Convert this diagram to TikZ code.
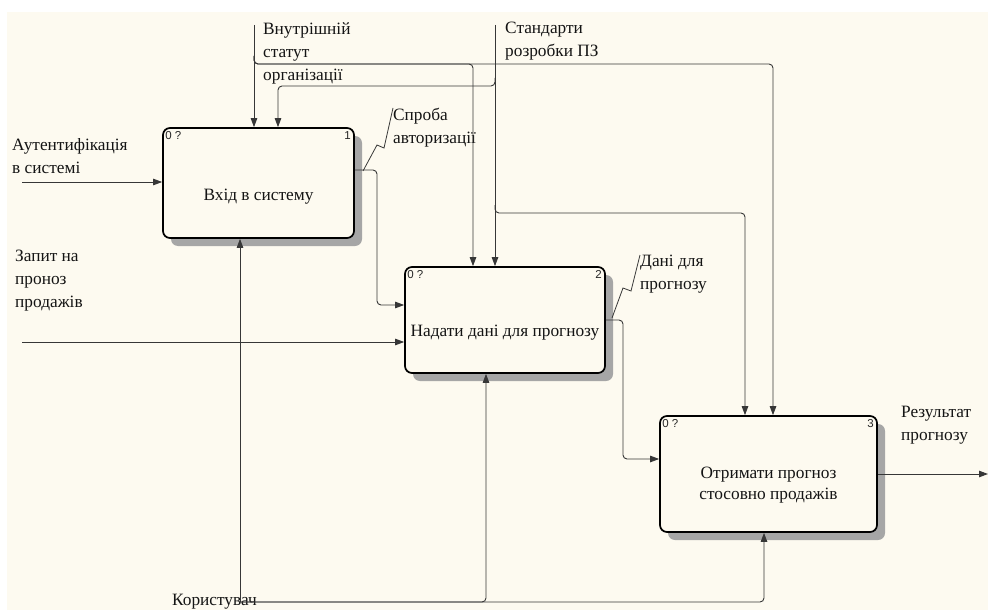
\documentclass[tikz,border=0pt]{standalone}
\usepackage{fontspec}
\setmainfont{Liberation Serif}
\newfontfamily\labelfont{Liberation Serif}
\newfontfamily\tagfont{Liberation Sans}
\usetikzlibrary{arrows.meta,shadows,calc}
\definecolor{paper}{RGB}{253,250,240}
\definecolor{wire}{RGB}{55,55,55}

\begin{document}
\begin{tikzpicture}[x=1pt,y=-1pt,
  lbl/.style={font=\labelfont\fontsize{17.3}{23}\selectfont, text=black!92, inner sep=0pt, align=left},
  proctext/.style={font=\labelfont\fontsize{17.3}{20.5}\selectfont, text=black!92, inner sep=0pt, align=center},
  tag/.style={font=\tagfont\fontsize{11.5}{13}\selectfont, text=black!85, inner sep=0pt},
  proc/.style={draw=black, line width=1.7pt, rounded corners=7pt, fill=paper, inner sep=0pt,
    general shadow={fill=black!35, shadow xshift=8pt, shadow yshift=-8pt}},
  arr/.style={draw=wire, line width=0.9pt, -{Triangle[length=9pt,width=6.5pt]}},
  wirebend/.style={arr, rounded corners=4pt},
  squig/.style={draw=wire, line width=0.8pt}
]
\useasboundingbox (0,0) rectangle (988,610);
\fill[white] (0,0) rectangle (988,610);
\fill[paper] (7,12) rectangle (988,610);

% activity boxes
\node[proc, minimum width=191pt, minimum height=110pt] (b1) at (258.5,183) {};
\node[proc, minimum width=200pt, minimum height=106pt] (b2) at (505,320) {};
\node[proc, minimum width=217pt, minimum height=116pt] (b3) at (768.5,474) {};

\node[proctext] (t1) at ([yshift=-14pt]b1.center) {Вхід в систему};
\node[proctext] (t2) at ([yshift=-13pt]b2.center) {Надати дані для прогнозу};
\node[proctext] (t3) at ([yshift=-11pt]b3.center) {Отримати прогноз\\стосовно продажів};

\node[tag, anchor=north west] (b1n) at ([shift={(3pt,-4pt)}]b1.north west) {0 ?};
\node[tag, anchor=north east] (b1k) at ([shift={(-4pt,-4pt)}]b1.north east) {1};
\node[tag, anchor=north west] (b2n) at ([shift={(3pt,-4pt)}]b2.north west) {0 ?};
\node[tag, anchor=north east] (b2k) at ([shift={(-4pt,-4pt)}]b2.north east) {2};
\node[tag, anchor=north west] (b3n) at ([shift={(3pt,-4pt)}]b3.north west) {0 ?};
\node[tag, anchor=north east] (b3k) at ([shift={(-4pt,-4pt)}]b3.north east) {3};

% arrow labels
\node[lbl, anchor=north west] (lV) at (263,22) {Внутрішній\\статут\\організації};
\node[lbl, anchor=north west] (lS) at (505,22) {Стандарти\\розробки ПЗ};
\node[lbl, anchor=north west] (lSp) at (393,108) {Спроба\\авторизації};
\node[lbl, anchor=north west] (lD) at (640,255) {Дані для\\прогнозу};
\node[lbl, anchor=north west] (lA) at (12,138) {Аутентифікація\\в системі};
\node[lbl, anchor=north west] (lZ) at (15,250) {Запит на\\проноз\\продажів};
\node[lbl, anchor=north west] (lR) at (901,406) {Результат\\прогнозу};
\node[lbl, anchor=base west] (lK) at (172,605) {Користувач};

% inputs
\coordinate (inA) at (22,182);
\coordinate (inZ) at (22,342);
\draw[arr] (inA) -- (inA -| b1.west);
\draw[arr] (inZ) -- (inZ -| b2.west);

% controls
\coordinate (ctlV) at (254,25);
\coordinate (jV) at (254,56);
\coordinate (c2a) at (473,64);
\coordinate (c3b) at (773,64);
\draw[arr] (ctlV) -- (ctlV |- b1.north);
\draw[wirebend] (jV) |- (c3b) -- (c3b |- b3.north);
\draw[wirebend] (jV) |- (c2a) -- (c2a |- b2.north);

\coordinate (ctlS) at (495,25);
\coordinate (jS1) at (495,78);
\coordinate (c1b) at (278,86);
\coordinate (jS2) at (495,205);
\coordinate (c3a) at (745,213);
\draw[arr] (ctlS) -- (ctlS |- b2.north);
\draw[wirebend] (jS1) |- (c1b) -- (c1b |- b1.north);
\draw[wirebend] (jS2) |- (c3a) -- (c3a |- b3.north);

% outputs
\coordinate (k1) at (377,170);
\coordinate (k2) at (623,320);
\coordinate (outR) at (988,474);
\draw[wirebend] ([yshift=13pt]b1.east) -- (k1) |- ([yshift=15pt]b2.west);
\draw[wirebend] (b2.east) -- (k2) |- ([yshift=15pt]b3.west);
\draw[arr] (b3.east) -- (outR);

% mechanism
\coordinate (mech) at (240,602);
\coordinate (m2) at (486,602);
\coordinate (m3) at (764,602);
\draw[arr] (mech) -- (mech |- b1.south);
\draw[wirebend] (mech) -- (m3) -- (m3 |- b3.south);
\draw[wirebend] (mech) -- (m2) -- (m2 |- b2.south);

% squiggles tying labels to their arrows
\draw[squig] (363,171) -- (377,145) -- (384,148) -- (lSp.north west);
\draw[squig] (612,318) -- (623,288) -- (631,291) -- (lD.north west);
\end{tikzpicture}
\end{document}
